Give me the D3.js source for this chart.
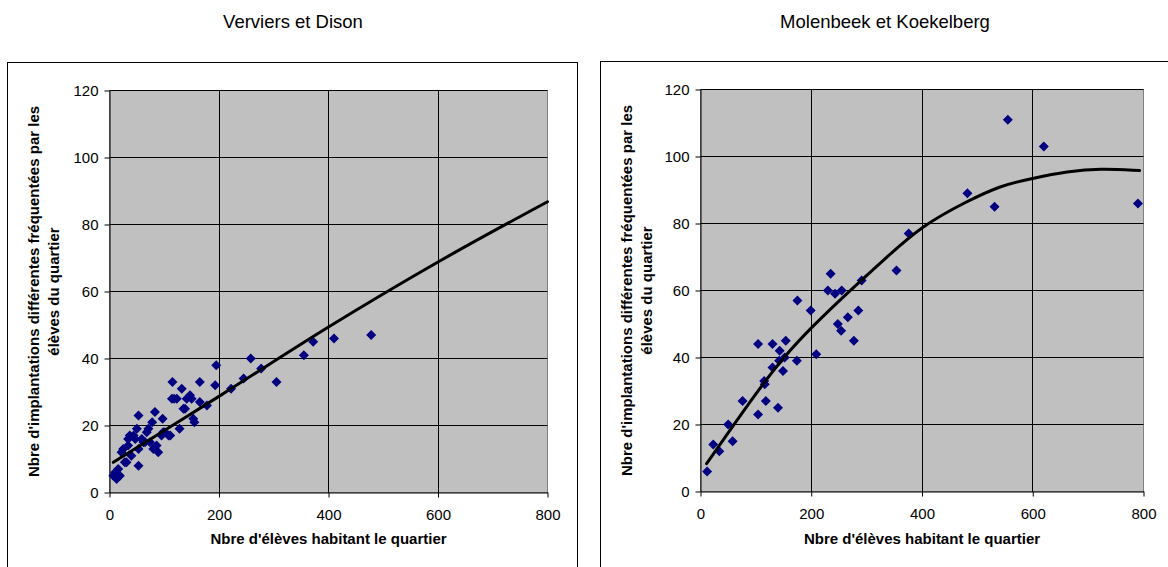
<!DOCTYPE html>
<html>
<head>
<meta charset="utf-8">
<script src="https://cdn.jsdelivr.net/npm/d3@7"></script>
<style>
  body { margin: 0; background: #fff; }
  svg { display: block; font-family: "Liberation Sans", Arial, sans-serif; }
</style>
</head>
<body>
<svg id="chart" width="1168" height="567"></svg>
<script>
// Axis ticks and texts
const xTicks = [0, 200, 400, 600, 800];
const yTicks = [0, 20, 40, 60, 80, 100, 120];
const panelTitles = ["Verviers et Dison", "Molenbeek et Koekelberg"];
const xAxisTitle = "Nbre d'élèves habitant le quartier";
const yAxisTitle = ["Nbre d'implantations différentes fréquentées par les", "élèves du quartier"];

// Verviers et Dison: pupils living in the district vs. distinct schools attended
const vervEleves = [7, 10, 13, 16, 19, 22, 25, 28, 31, 34, 34, 37, 40, 44, 47, 50, 53, 53, 53, 59,
  62, 65, 68, 71, 74, 78, 80, 83, 86, 89, 95, 97, 98, 101, 108, 111, 114, 115, 118, 123,
  128, 132, 135, 138, 141, 147, 150, 153, 155, 165, 165, 178, 193, 195, 222, 245, 258, 277, 305, 355,
  372, 410, 478];
const vervImpl = [5, 6, 4, 7, 5, 12, 13, 9, 9, 14, 16, 17, 11, 17, 16, 19, 23, 13, 8, 16,
  15, 15, 18, 19, 15, 21, 13, 24, 14, 12, 17, 22, 18, 18, 17, 17, 28, 33, 28, 28,
  19, 31, 25, 25, 28, 29, 28, 22, 21, 33, 27, 26, 32, 38, 31, 34, 40, 37, 33, 41,
  45, 46, 47];
// Trend line through the Verviers cloud
const vervTrendX = [7, 120, 200, 400, 600, 800];
const vervTrendY = [9, 20.5, 28.7, 49.4, 68.8, 86.8];

// Molenbeek et Koekelberg
const molEleves = [12, 23, 34, 50, 58, 76, 104, 104, 115, 116, 118, 130, 130, 140, 142, 143, 149, 152, 154, 174,
  175, 199, 209, 230, 235, 243, 248, 254, 255, 266, 277, 285, 291, 354, 376, 482, 531, 555, 620, 790];
const molImpl = [6, 14, 12, 20, 15, 27, 23, 44, 33, 32, 27, 44, 37, 25, 39, 42, 36, 40, 45, 39,
  57, 54, 41, 60, 65, 59, 50, 48, 60, 52, 45, 54, 63, 66, 77, 89, 85, 111, 103, 86];
const molTrendX = [11, 101, 150, 200, 270, 330, 400, 481, 541, 602, 662, 722, 793];
const molTrendY = [8.3, 29.6, 40.1, 49, 60, 69, 79.4, 86.6, 91.3, 93.6, 95.5, 96.5, 95.8];

const panels = [
  { title: panelTitles[0], xs: vervEleves, ys: vervImpl, tx: vervTrendX, ty: vervTrendY, curve: d3.curveMonotoneX,
    frame: { x: 7.5, y: 62.5, w: 570, h: 560 }, titleX: 293,
    plot: { l: 109.5, r: 547.5, t: 90.5, b: 492.5 } },
  { title: panelTitles[1], xs: molEleves, ys: molImpl, tx: molTrendX, ty: molTrendY, curve: d3.curveBasis,
    frame: { x: 600.5, y: 61.5, w: 600, h: 560 }, titleX: 885,
    plot: { l: 700.5, r: 1143.5, t: 89.5, b: 491.5 } }
];

const svg = d3.select("#chart");
const snap = v => Math.round(v - 0.5) + 0.5;
const diamond = r => `M0,${-r}L${r},0L0,${r}L${-r},0Z`;

panels.forEach(p => {
  const g = svg.append("g");
  const x = d3.scaleLinear().domain([0, 800]).range([p.plot.l, p.plot.r]);
  const y = d3.scaleLinear().domain([0, 120]).range([p.plot.b, p.plot.t]);

  // outer chart frame
  g.append("rect")
    .attr("x", p.frame.x).attr("y", p.frame.y)
    .attr("width", p.frame.w).attr("height", p.frame.h)
    .attr("fill", "#fff").attr("stroke", "#000").attr("stroke-width", 1);

  g.append("text")
    .attr("x", p.titleX).attr("y", 28)
    .attr("text-anchor", "middle")
    .attr("font-size", 18.5).attr("fill", "#000")
    .text(p.title);

  // plot area
  g.append("rect")
    .attr("x", p.plot.l).attr("y", p.plot.t)
    .attr("width", p.plot.r - p.plot.l).attr("height", p.plot.b - p.plot.t)
    .attr("fill", "#c0c0c0").attr("stroke", "#808080").attr("stroke-width", 1);

  // gridlines
  g.append("g").selectAll("line").data(yTicks.filter(d => d > 0)).join("line")
    .attr("x1", p.plot.l).attr("x2", p.plot.r)
    .attr("y1", d => snap(y(d))).attr("y2", d => snap(y(d)))
    .attr("stroke", "#000").attr("stroke-width", 1);
  g.append("g").selectAll("line").data(xTicks.filter(d => d > 0 && d < 800)).join("line")
    .attr("x1", d => snap(x(d))).attr("x2", d => snap(x(d)))
    .attr("y1", p.plot.t).attr("y2", p.plot.b)
    .attr("stroke", "#000").attr("stroke-width", 1);

  // axes
  const ax = g.append("g").attr("transform", `translate(0,${p.plot.b})`)
    .call(d3.axisBottom(x).tickValues(xTicks).tickSize(5).tickSizeOuter(0).tickPadding(12));
  const ay = g.append("g").attr("transform", `translate(${p.plot.l},0)`)
    .call(d3.axisLeft(y).tickValues(yTicks).tickSize(5).tickSizeOuter(0).tickPadding(6));
  [ax, ay].forEach(a => {
    a.attr("font-family", null).attr("font-size", null);
    a.selectAll("text").attr("font-size", 15).attr("fill", "#000");
    a.selectAll("line,path").attr("stroke", "#000");
  });

  // points
  g.append("g").selectAll("path").data(p.xs.map((v, i) => [v, p.ys[i]])).join("path")
    .attr("d", diamond(5))
    .attr("transform", d => `translate(${x(d[0])},${y(d[1])})`)
    .attr("fill", "#000080");

  // trend line
  const line = d3.line().x(d => x(d[0])).y(d => y(d[1])).curve(p.curve);
  g.append("path")
    .datum(p.tx.map((v, i) => [v, p.ty[i]]))
    .attr("d", line)
    .attr("fill", "none").attr("stroke", "#000").attr("stroke-width", 3)
    .attr("stroke-linecap", "round");

  // axis titles
  const cx = (p.plot.l + p.plot.r) / 2;
  g.append("text")
    .attr("x", cx).attr("y", 544)
    .attr("text-anchor", "middle").attr("font-size", 15).attr("font-weight", "bold")
    .text(xAxisTitle);
  const cy = (p.plot.t + p.plot.b) / 2;
  const yt = g.append("text")
    .attr("transform", `translate(${p.frame.x + 31},${cy}) rotate(-90)`)
    .attr("text-anchor", "middle").attr("font-size", 15).attr("font-weight", "bold");
  yAxisTitle.forEach((t, i) => yt.append("tspan").attr("x", 0).attr("dy", i === 0 ? 0 : 20).text(t));
});
</script>
</body>
</html>
